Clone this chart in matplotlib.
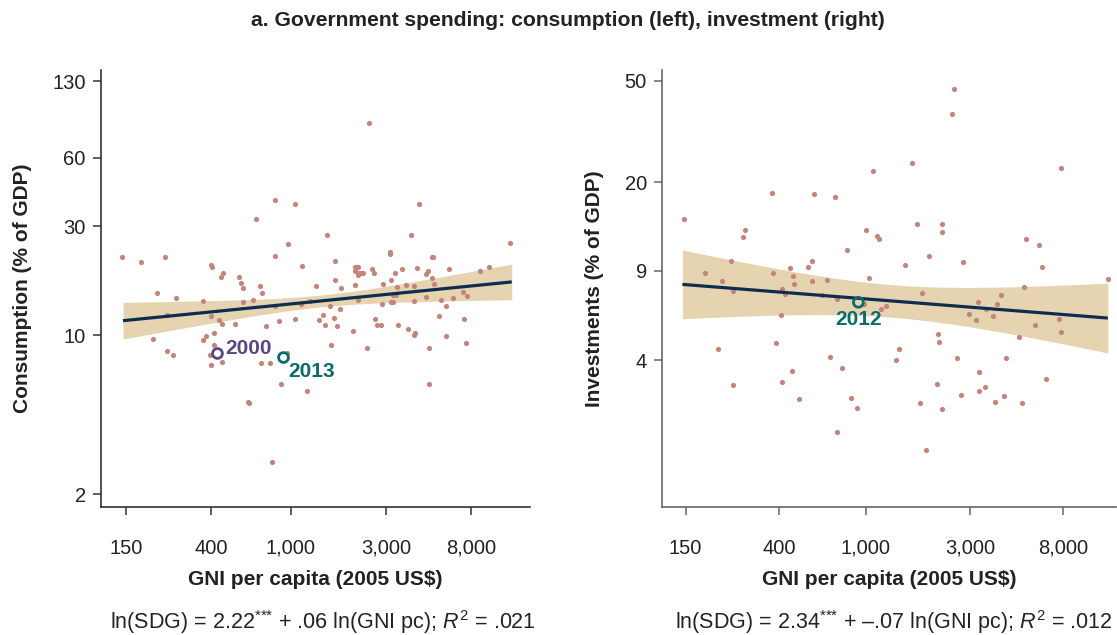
import numpy as np
import matplotlib
matplotlib.use("Agg")
import matplotlib.pyplot as plt

plt.rcParams["font.family"] = ["Liberation Sans", "DejaVu Sans"]
plt.rcParams["mathtext.fontset"] = "custom"
plt.rcParams["mathtext.rm"] = "Liberation Sans"
plt.rcParams["mathtext.it"] = "Liberation Sans:italic"
plt.rcParams["mathtext.bf"] = "Liberation Sans:bold"

# consumption panel: GNI per capita (2005 US$) and consumption (% of GDP)
cons_gni = [2470, 840, 1050, 4400, 670, 1530, 4020, 970, 12600, 144, 178, 236, 838,
            3130, 3150, 5120, 5180, 398, 404, 1140, 1670, 457, 450, 552, 567, 576,
            703, 719, 214, 268, 363, 576, 648, 833, 1124, 1250, 1336, 1674, 1794,
            1575, 1761, 2100, 2150, 2180, 2110, 2190, 2170, 2244, 2303, 2556, 2616,
            2105, 2170, 2900, 3170, 3330, 3625, 3420, 3783, 4160, 4277, 4762, 4850,
            5100, 5200, 6190, 3245, 3370, 3171, 3245, 2878, 4160, 4780, 5640, 6000,
            6520, 7320, 7640, 8900, 9810, 205, 241, 258, 241, 364, 378, 400, 415,
            413, 397, 400, 438, 452, 452, 529, 753, 714, 792, 878, 956, 895, 1204,
            612, 617, 807, 1049, 1382, 1459, 1487, 1588, 1656, 1713, 2052, 2404,
            2655, 2717, 2835, 3460, 3884, 4160, 4210, 4913, 4946, 5530, 6000, 7350,
            7580]
cons_pct = [85, 39, 37.6, 37.6, 32.3, 27.5, 27.4, 25.0, 25.4, 22.0, 20.9, 22.0, 22.2,
            23.1, 22.6, 22.0, 22.1, 20.3, 19.9, 20.1, 21.2, 18.8, 18.0, 18.0, 16.9, 16.1,
            16.4, 15.3, 15.3, 14.5, 14.1, 13.9, 14.3, 13.4, 13.7, 14.1, 16.4, 17.4, 16.1,
            13.4, 13.0, 19.8, 19.8, 19.8, 19.1, 18.8, 18.4, 18.8, 18.8, 19.5, 18.8,
            16.6, 14.3, 16.7, 17.4, 18.8, 19.4, 16.2, 16.6, 16.4, 19.7, 18.5, 19.0,
            17.8, 16.7, 19.5, 15.0, 15.0, 14.0, 14.0, 13.7, 14.1, 14.7, 14.3, 13.4,
            14.6, 15.4, 14.9, 19.1, 19.8, 9.6, 8.5, 8.2, 12.3, 9.5, 9.9, 12.1, 10.2,
            9.0, 8.2, 7.4, 11.6, 11.2, 7.6, 11.2, 10.9, 7.5, 7.5, 11.5, 8.3, 6.1, 5.7,
            5.1, 5.05, 2.77, 11.7, 11.6, 12.2, 11.1, 9.0, 11.9, 11.0, 10.4, 8.8,
            11.8, 11.1, 11.1, 11.1, 10.6, 10.0, 10.2, 8.8, 6.1, 12.1, 9.9, 11.8,
            9.2]

# investment panel: GNI per capita (2005 US$) and investment (% of GDP)
inv_gni = [2536, 2473, 1619, 1078, 7780, 373, 582, 726, 148, 1720, 2236, 2240, 279,
           275, 1001, 1129, 1152, 5407, 6170, 817, 242, 568, 1936, 2776, 1504, 6370,
           547, 449, 184, 375, 465, 1033, 220, 570, 667, 472, 12880, 413, 247, 426,
           631, 1804, 5310, 741, 4157, 3274, 3985, 985, 1241, 1178, 3561, 389, 211,
           689, 778, 1372, 1412, 2150, 2166, 2626, 4395, 5037, 7834, 5960, 7613,
           3206, 2957, 3820, 408, 248, 460, 414, 494, 859, 908, 736, 2120, 3284,
           3307, 3513, 2730, 2236, 1766, 1895, 3902, 4303, 5160, 6687]
inv_pct = [46.5, 37.1, 23.9, 22.2, 22.8, 18.2, 17.9, 17.5, 14.3, 13.7, 13.7, 12.7, 12.95,
           12.2, 12.95, 12.3, 12.0, 12.0, 11.3, 10.8, 9.84, 9.84, 10.3, 9.72, 9.46, 9.32,
           9.32, 9.21, 8.78, 8.78, 8.57, 8.39, 8.21, 8.21, 8.25, 8.0, 8.32, 7.64, 7.46, 7.26,
           7.19, 7.37, 7.78, 6.98, 7.19, 6.75, 6.65, 6.65, 6.53, 6.37, 6.37, 4.66, 4.42,
           4.12, 3.72, 4.01, 4.43, 5.07, 4.70, 4.08, 4.07, 4.92, 5.18, 5.51, 5.82,
           5.75, 6.06, 5.98, 6.0, 3.2, 3.62, 3.29, 2.82, 2.84, 2.60, 2.08, 3.23, 3.60,
           3.02, 3.15, 2.93, 2.57, 2.71, 1.77, 2.75, 2.89, 2.72, 3.37]

# highlighted country-years
cons_marks = [("2000", 428, 8.3, "#5b4682"), ("2013", 919, 8.0, "#0b6a6a")]
inv_marks = [("2012", 925, 6.75, "#0b6a6a")]

# log10 fits (intercept, slope) and confidence band shape
cons_fit = dict(a=0.874, b=0.0874, h0=0.026, k=0.077, u0=3.15)
inv_fit = dict(a=1.0467, b=-0.068, h0=0.064, k=0.1235, u0=3.123)
fit_range = (145, 12800)

x_ticks = [150, 400, 1000, 3000, 8000]
x_ticklabels = ["150", "400", "1,000", "3,000", "8,000"]
cons_yticks = [2, 10, 30, 60, 130]
inv_yticks = [4, 9, 20, 50]

dot_color = "#c2857b"
line_color = "#0b2d4e"
band_color = "#e6d4b1"
text_color = "#222222"


def draw_fit(ax, a, b, h0, k, u0):
    u = np.linspace(np.log10(fit_range[0]), np.log10(fit_range[1]), 200)
    mid = a + b * u
    hw = np.sqrt(h0 ** 2 + (k * (u - u0)) ** 2)
    ax.fill_between(10 ** u, 10 ** (mid - hw), 10 ** (mid + hw), color=band_color,
                    lw=0, zorder=1)
    ax.plot(10 ** u, 10 ** mid, color=line_color, lw=2.3, zorder=3,
            solid_capstyle="butt")


def style(ax, yticks, spine_color):
    ax.set_xscale("log")
    ax.set_yscale("log")
    ax.set_xticks(x_ticks)
    ax.set_xticklabels(x_ticklabels)
    ax.set_yticks(yticks)
    ax.set_yticklabels([str(t) for t in yticks])
    ax.minorticks_off()
    for s in ["top", "right"]:
        ax.spines[s].set_visible(False)
    for s in ["left", "bottom"]:
        ax.spines[s].set_color(spine_color)
        ax.spines[s].set_linewidth(1.2)
    ax.tick_params(axis="both", labelsize=14.5, length=6, width=1.1,
                   color=spine_color, labelcolor=text_color)
    ax.tick_params(axis="x", pad=17)
    ax.tick_params(axis="y", pad=5)
    ax.set_xlabel("GNI per capita (2005 US$)", fontsize=15, fontweight="bold",
                  color=text_color)
    ax.xaxis.set_label_coords(0.5, -0.145)


fig = plt.figure(figsize=(11.17, 6.35), dpi=100)
ax1 = fig.add_axes([0.0904, 0.2016, 0.384, 0.6882])
ax2 = fig.add_axes([0.5927, 0.2016, 0.4065, 0.6882])

# left panel
draw_fit(ax1, **cons_fit)
ax1.scatter(cons_gni, cons_pct, s=14, color=dot_color, lw=0, zorder=2)
style(ax1, cons_yticks, "#333333")
ax1.set_xlim(112.5, 15780)
ax1.set_ylim(1.76, 145.5)
ax1.set_ylabel("Consumption (% of GDP)", fontsize=15, fontweight="bold",
               color=text_color)
ax1.yaxis.set_label_coords(-0.16, 0.5)
offsets = {"2000": (8, 5, "left"), "2013": (5, -14, "left")}
for lab, gx, gy, col in cons_marks:
    ax1.scatter([gx], [gy], s=50, facecolor="white", edgecolor=col, lw=2, zorder=4)
    dx, dy, ha = offsets[lab]
    ax1.annotate(lab, (gx, gy), xytext=(dx, dy), textcoords="offset pixels",
                 ha=ha, va="center", fontsize=15, fontweight="bold", color=col,
                 zorder=5)

# right panel
draw_fit(ax2, **inv_fit)
ax2.scatter(inv_gni, inv_pct, s=14, color=dot_color, lw=0, zorder=2)
style(ax2, inv_yticks, "#666666")
ax2.set_xlim(117, 13960)
ax2.set_ylim(1.06, 55.2)
ax2.set_ylabel("Investments (% of GDP)", fontsize=15, fontweight="bold",
               color=text_color)
ax2.yaxis.set_label_coords(-0.128, 0.5)
for lab, gx, gy, col in inv_marks:
    ax2.scatter([gx], [gy], s=50, facecolor="none", edgecolor=col, lw=2, zorder=4)
    ax2.annotate(lab, (gx, gy), xytext=(0, -17), textcoords="offset pixels",
                 ha="center", va="center", fontsize=15, fontweight="bold",
                 color=col, zorder=5)

fig.text(0.5085, 0.9685, "a. Government spending: consumption (left), investment (right)",
         ha="center", va="center", fontsize=15.2, fontweight="bold", color=text_color)
fig.text(0.2895, 0.021, r"ln(SDG) = 2.22$^{\text{***}}$ + .06 ln(GNI pc); $R^{2}$ = .021",
         ha="center", va="center", fontsize=15.5, color=text_color)
fig.text(0.8005, 0.021, r"ln(SDG) = 2.34$^{\text{***}}$ + –.07 ln(GNI pc); $R^{2}$ = .012",
         ha="center", va="center", fontsize=15.5, color=text_color)

fig.savefig("out.png", dpi=100)
